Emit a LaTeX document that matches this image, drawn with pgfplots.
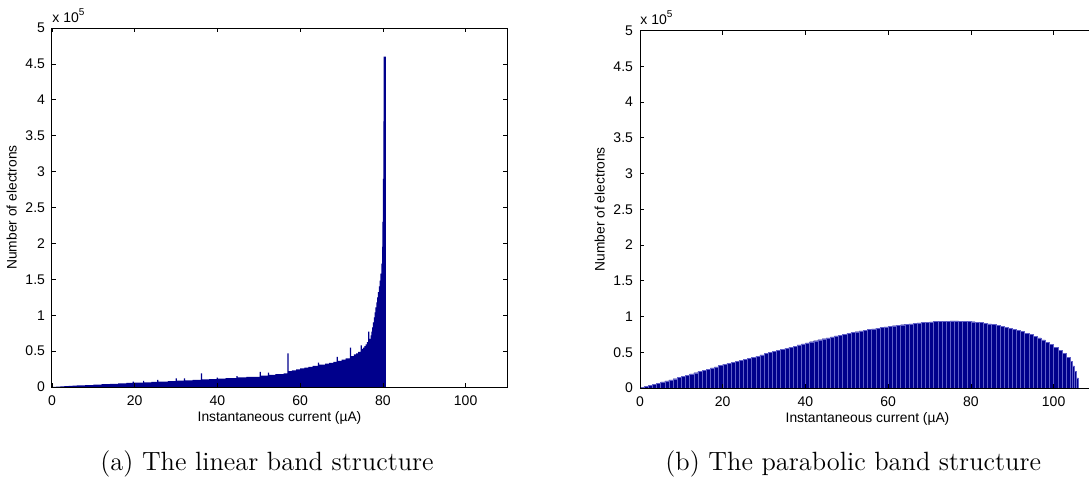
\documentclass[border=0pt]{standalone}
\usepackage{fontspec}
\usepackage{pgfplots}
\pgfplotsset{compat=1.18}
\newfontfamily\helv{Liberation Sans}
\definecolor{barblue}{RGB}{0,0,140}
\definecolor{gapblue}{RGB}{95,95,200}
\begin{document}
\begin{tikzpicture}
\pgfplotsset{
  mystyle/.style={
    scale only axis, width=227.5pt,
    xmin=0, xmax=110, ymin=0, ymax=5,
    xtick={0,20,40,60,80,100}, xticklabels={0,20,40,60,80,100},
    ytick={0,0.5,1,1.5,2,2.5,3,3.5,4,4.5,5},
    yticklabels={0,0.5,1,1.5,2,2.5,3,3.5,4,4.5,5},
    scaled y ticks=false, scaled x ticks=false,
    tick align=inside, major tick length=2pt,
    tick pos=both,
    axis line style={line width=0.5pt, black},
    tick style={line width=0.4pt, black},
    ticklabel style={font=\helv\fontsize{7}{8}\selectfont},
    /pgf/number format/assume math mode=true,
    xticklabel style={yshift=-1pt},
    label style={font=\helv\fontsize{6.9}{8}\selectfont},
    xlabel={Instantaneous current (µA)},
    ylabel={Number of electrons},
    xlabel style={yshift=4pt},
    ylabel style={yshift=-2.5pt},
    axis on top,
  }
}
\begin{axis}[mystyle, height=179.5pt, at={(26pt,46pt)}, anchor=south west]
\addplot[const plot, fill=barblue, draw=none] coordinates {
(0,0.002) (1,0.006) (2,0.010) (3,0.013) (4,0.016) (5,0.019) (6,0.022) (8,0.027)
(10,0.033) (12,0.039) (14,0.045) (16,0.050) (18,0.056)
(19.5,0.074) (19.8,0.062) (22.0,0.084) (22.3,0.066) (24,0.071)
(25.4,0.100) (25.7,0.076) (28,0.083) (29.9,0.120) (30.2,0.089)
(31.9,0.120) (32.2,0.094) (34,0.100) (36.0,0.190) (36.3,0.106)
(38,0.110) (39.8,0.130) (40.1,0.117) (42,0.123) (44.6,0.150) (44.9,0.133)
(47,0.140) (50.2,0.210) (50.5,0.160) (52.2,0.200) (52.5,0.170)
(54,0.180) (56,0.190) (56.9,0.470) (57.2,0.220) (58,0.230) (59,0.245)
(60,0.260) (61,0.270) (62,0.280) (63,0.295) (64.3,0.340) (64.6,0.310)
(66,0.325) (67,0.335) (68,0.350) (68.8,0.420) (69.1,0.365) (70,0.380)
(71,0.400) (72,0.550) (72.3,0.430) (73,0.455) (73.5,0.470) (74,0.490)
(74.6,0.580) (74.9,0.530) (75.2,0.550) (75.5,0.570) (75.8,0.595)
(76.1,0.625) (76.4,0.770) (76.7,0.670) (77.0,0.720) (77.2,0.770)
(77.4,0.830) (77.6,0.900) (77.8,0.970) (78.0,1.040) (78.2,1.110)
(78.4,1.180) (78.6,1.250) (78.8,1.320) (79.0,1.400) (79.2,1.480)
(79.4,1.580) (79.6,1.720) (79.8,1.950) (79.9,2.300) (80.0,2.900)
(80.1,3.700) (80.2,4.600) (80.7,0)
} \closedcycle;
\end{axis}
\node[anchor=base west, font=\helv\fontsize{7}{8}\selectfont, inner sep=0pt] at (26pt,228.5pt) {x 10\textsuperscript{5}};
\begin{axis}[mystyle, height=178.75pt, at={(320pt,45.5pt)}, anchor=south west]
\addplot[ybar interval, fill=barblue, draw=gapblue, line width=0.2pt] coordinates {
(0,0.010) (1,0.025) (2,0.040) (3,0.055) (4,0.070) (5,0.085) (6,0.100) (7,0.115)
(8,0.130) (9,0.146) (10,0.163) (11,0.180) (12,0.197) (13,0.214) (14,0.231)
(15,0.248) (16,0.265) (17,0.281) (18,0.297) (19,0.313) (20,0.329) (21,0.344)
(22,0.359) (23,0.374) (24,0.389) (25,0.403) (26,0.417) (27,0.431) (28,0.445)
(29,0.462) (30,0.482) (31,0.497) (32,0.512) (33,0.527) (34,0.542) (35,0.557)
(36,0.572) (37,0.587) (38,0.602) (39,0.617) (40,0.632) (41,0.647) (42,0.661)
(43,0.675) (44,0.689) (45,0.702) (46,0.715) (47,0.728) (48,0.740) (49,0.752)
(50,0.764) (51,0.776) (52,0.787) (53,0.798) (54,0.808) (55,0.818) (56,0.828)
(57,0.837) (58,0.846) (59,0.855) (60,0.863) (61,0.871) (62,0.878) (63,0.885)
(64,0.892) (65,0.898) (66,0.904) (67,0.910) (68,0.915) (69,0.920) (70,0.924)
(71,0.928) (72,0.931) (73,0.934) (74,0.936) (75,0.938) (76,0.938) (77,0.937)
(78,0.935) (79,0.932) (80,0.927) (81,0.921) (82,0.914) (83,0.906) (84,0.897)
(85,0.887) (86,0.876) (87,0.864) (88,0.851) (89,0.837) (90,0.822) (91,0.806)
(92,0.788) (93,0.769) (94,0.748) (95,0.725) (96,0.700) (97,0.673) (98,0.643)
(99,0.610) (100,0.573) (101,0.531) (102,0.484) (103,0.430) (104,0.375)
(104.5,0.310) (105,0.230) (105.5,0.140) (106,0.140)
};
\end{axis}
\node[anchor=base west, font=\helv\fontsize{7}{8}\selectfont, inner sep=0pt] at (320pt,227.5pt) {x 10\textsuperscript{5}};
\node[anchor=base west, inner sep=0pt, font=\fontsize{13.2}{15}\selectfont] at (50pt,4.25pt) {(a) The linear band structure};
\node[anchor=base west, inner sep=0pt, font=\fontsize{13.2}{15}\selectfont] at (332.5pt,4.25pt) {(b) The parabolic band structure};
\pgfresetboundingbox
\path[use as bounding box] (0,0) rectangle (544.5pt,239.5pt);
\end{tikzpicture}
\end{document}
